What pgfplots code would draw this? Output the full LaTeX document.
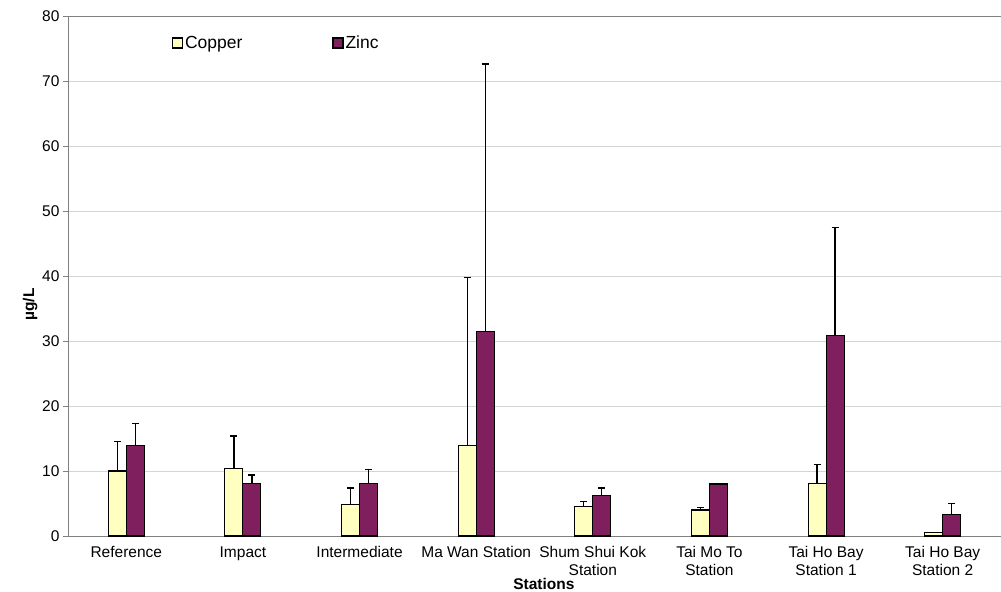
\documentclass[border=0pt]{standalone}
\usepackage{fontspec}
\setmainfont{Liberation Sans}
\usepackage{pgfplots}
\usepackage{pgfplotstable}
\pgfplotsset{compat=1.18}
\definecolor{copperc}{HTML}{FFFFC0}
\definecolor{zincc}{HTML}{801F5E}
\definecolor{gridc}{HTML}{D4D4D4}
\definecolor{axc}{HTML}{808080}
\pgfplotstableread{
x cu cue zn zne
1 10.0 4.6 13.9 3.4
2 10.4 5.0 8.1 1.3
3 4.9 2.5 8.1 2.1
4 13.9 25.9 31.5 41.1
5 4.5 0.8 6.2 1.2
6 4.0 0.4 8.0 0
7 8.1 2.9 30.8 16.6
8 0.5 0 3.3 1.7
}\datatab
\begin{document}
\begin{tikzpicture}
\begin{axis}[
  at={(0bp,0bp)}, anchor=south west,
  scale only axis, width=933bp, height=520bp,
  xmin=0.5, xmax=8.5, ymin=0, ymax=80,
  ytick={0,10,...,80},
  ymajorgrids, grid style={gridc, line width=0.8bp},
  axis line style={axc, line width=0.9bp},
  tick align=outside, major tick length=5bp,
  tick style={axc, line width=0.8bp},
  xtick={1,...,8},
  xticklabels={Reference, Impact, Intermediate, Ma Wan Station, Shum Shui Kok\\Station, Tai Mo To\\Station, Tai Ho Bay\\Station 1, Tai Ho Bay\\Station 2},
  xtick style={draw=none},
  extra x ticks={0.5,1.5,...,8.5},
  extra x tick labels={},
  extra x tick style={grid=none, tick style={draw=axc, line width=0.8bp}},
  xticklabel style={align=center, font=\fontsize{15.5bp}{18bp}\selectfont, anchor=north, yshift=-2bp},
  yticklabel style={font=\fontsize{15.5bp}{18bp}\selectfont},
  /pgf/number format/assume math mode=true,
  xlabel={\textbf{Stations}},
  xlabel style={at={(axis description cs:0.51,0)}, anchor=base, yshift=-53bp, font=\fontsize{15.5bp}{18bp}\selectfont},
  ylabel={\textbf{µg/L}},
  ylabel style={at={(axis description cs:-0.0407,0.445)}, anchor=center, font=\fontsize{15.5bp}{18bp}\selectfont},
  legend style={at={(axis description cs:0.108,0.948)}, anchor=west, draw=none, fill=none,
    font=\fontsize{17.5bp}{20bp}\selectfont, legend columns=2,
    /tikz/every even column/.append style={column sep=88bp}},
  legend image code/.code={\draw[#1] (0bp,-5bp) rectangle (10bp,5bp);},
]
\addplot[ybar, bar width=0.1544, bar shift=0, fill=copperc, draw=black, line width=1.1bp,
  error bars/.cd, y dir=plus, y explicit,
  error bar style={line width=1.2bp, black},
  error mark options={rotate=90, mark size=3.5bp, line width=1.2bp, black}]
  table[x expr=\thisrow{x}-0.0772, y=cu, y error=cue] {\datatab};
\addlegendentry{Copper}
\addplot[ybar, bar width=0.1544, bar shift=0, fill=zincc, draw=black, line width=1.1bp,
  error bars/.cd, y dir=plus, y explicit,
  error bar style={line width=1.2bp, black},
  error mark options={rotate=90, mark size=3.5bp, line width=1.2bp, black}]
  table[x expr=\thisrow{x}+0.0772, y=zn, y error=zne] {\datatab};
\addlegendentry{Zinc}
\end{axis}
\pgfresetboundingbox
\path[use as bounding box] (-68bp,-56bp) rectangle (933bp,536bp);
\end{tikzpicture}
\end{document}
